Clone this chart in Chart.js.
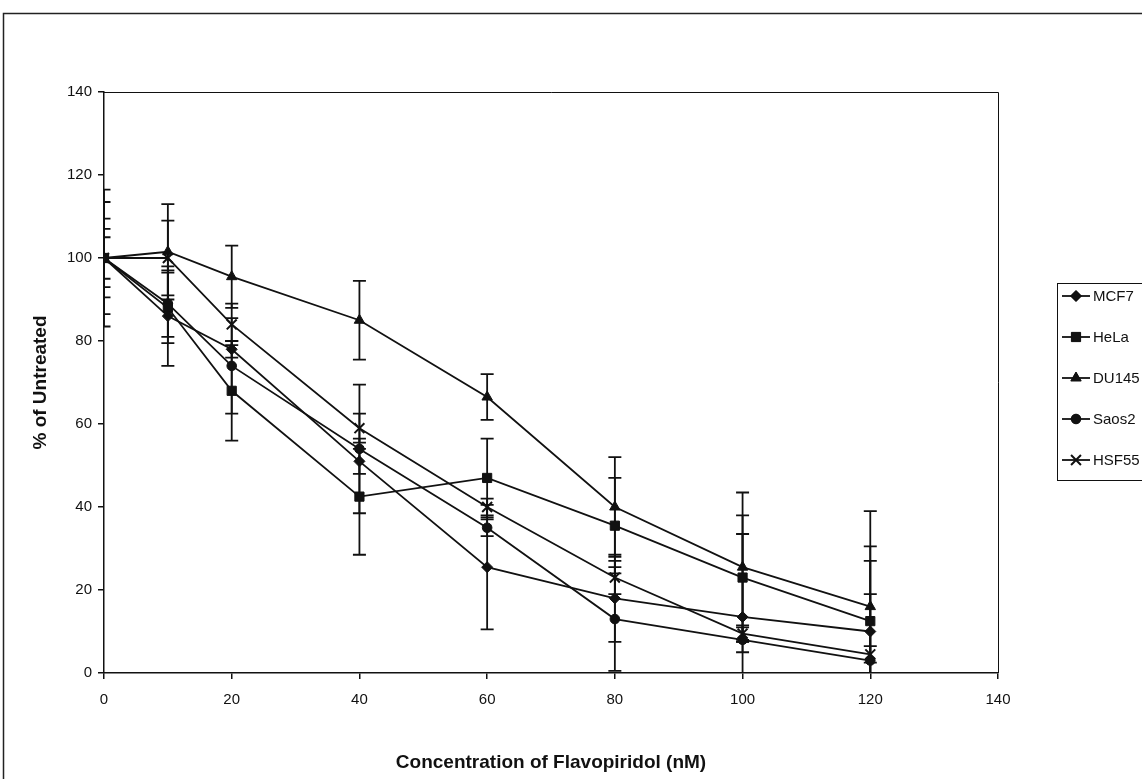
<!DOCTYPE html>
<html>
<head>
<meta charset="utf-8">
<title>Flavopiridol</title>
<script src="https://cdn.jsdelivr.net/npm/chart.js"></script>
<style>
  html, body { margin: 0; padding: 0; background: #fff; }
  #wrap { width: 1142px; height: 779px; position: relative; overflow: hidden; }
</style>
</head>
<body>
<div id="wrap"><canvas id="FlavoChart" width="1142" height="779"></canvas></div>
<script>
const concentrations = [0, 10, 20, 40, 60, 80, 100, 120];

const mcf7 = [100, 86, 78, 51, 25.5, 18, 13.5, 10];
const hela = [100, 88, 68, 42.5, 47, 35.5, 23, 12.5];
const du145 = [100, 101.5, 95.5, 85, 66.5, 40, 25.5, 16];
const saos2 = [100, 89, 74, 54, 35, 13, 8, 3];
const hsf55 = [100, 100, 84, 59, 40, 23, 9.5, 4.5];

// +/- error for each point
const mcf7_err = [9.5, 12, 2, 3, 15, 10.5, 20, 17];
const hela_err = [16.5, 8.5, 12, 14, 9.5, 11.5, 15, 18];
const du145_err = [5, 11.5, 7.5, 9.5, 5.5, 12, 18, 23];
const saos2_err = [13.5, 8, 11.5, 15.5, 2, 12.5, 3, 16];
const hsf55_err = [7, 9, 5, 3.5, 2, 4, 2, 2];

const axisTicks = [0, 20, 40, 60, 80, 100, 120, 140];

function toPoints(vals) {
    return concentrations.map((c, i) => ({x: c, y: vals[i]}));
}

function series(label, vals, errs, style, radius) {
    return {
        label: label,
        data: toPoints(vals),
        errors: errs,
        showLine: true,
        borderColor: '#111',
        borderWidth: 1.8,
        backgroundColor: '#111',
        pointStyle: style,
        pointRadius: radius,
        pointHoverRadius: radius,
        pointBorderColor: '#111',
        pointBackgroundColor: '#111',
        pointBorderWidth: style === 'crossRot' ? 2 : 1
    };
}

const flavo_data = {
    datasets: [
        series('MCF7', mcf7, mcf7_err, 'rectRot', 5.5),
        series('HeLa', hela, hela_err, 'rect', 6.5),
        series('DU145', du145, du145_err, 'triangle', 6),
        series('Saos2', saos2, saos2_err, 'circle', 4.8),
        series('HSF55', hsf55, hsf55_err, 'crossRot', 7)
    ]
};

// outer frame + plot area border
const framePlugin = {
    id: 'frame',
    beforeDraw(chart) {
        const ctx = chart.ctx;
        ctx.save();
        ctx.strokeStyle = '#222';
        ctx.lineWidth = 1.5;
        ctx.strokeRect(3.5, 13.5, 1200, 820);
        ctx.restore();
    },
    afterDraw(chart) {
        const a = chart.chartArea;
        const ctx = chart.ctx;
        ctx.save();
        ctx.strokeStyle = '#111';
        ctx.lineWidth = 1;
        ctx.beginPath();
        ctx.moveTo(a.left, a.top + 0.5);
        ctx.lineTo(a.right + 0.5, a.top + 0.5);
        ctx.lineTo(a.right + 0.5, a.bottom);
        ctx.stroke();
        ctx.restore();
    }
};

const errorBarPlugin = {
    id: 'errorBars',
    beforeDatasetsDraw(chart) {
        const ctx = chart.ctx;
        const xs = chart.scales.x, ys = chart.scales.y;
        const a = chart.chartArea;
        ctx.save();
        ctx.beginPath();
        ctx.rect(a.left, a.top, a.right - a.left, a.bottom - a.top);
        ctx.clip();
        ctx.strokeStyle = '#111';
        ctx.lineWidth = 1.8;
        chart.data.datasets.forEach(ds => {
            ds.data.forEach((p, i) => {
                const e = ds.errors[i];
                const px = xs.getPixelForValue(p.x);
                const top = ys.getPixelForValue(p.y + e);
                const bot = ys.getPixelForValue(p.y - e);
                ctx.beginPath();
                ctx.moveTo(px, top);
                ctx.lineTo(px, bot);
                ctx.moveTo(px - 6.5, top);
                ctx.lineTo(px + 6.5, top);
                ctx.moveTo(px - 6.5, bot);
                ctx.lineTo(px + 6.5, bot);
                ctx.stroke();
            });
        });
        ctx.restore();
    }
};

// Excel style legend box (line + marker), partly cut by the right edge
const legendPlugin = {
    id: 'boxLegend',
    afterDraw(chart) {
        const ctx = chart.ctx;
        ctx.save();
        ctx.strokeStyle = '#111';
        ctx.lineWidth = 1;
        ctx.strokeRect(1057.5, 283.5, 160, 197);
        ctx.font = '15px "Liberation Sans", Arial, sans-serif';
        ctx.fillStyle = '#111';
        ctx.textBaseline = 'middle';
        chart.data.datasets.forEach((ds, i) => {
            const y = 296 + i * 41;
            ctx.beginPath();
            ctx.lineWidth = 1.8;
            ctx.moveTo(1062, y);
            ctx.lineTo(1090, y);
            ctx.stroke();
            ctx.lineWidth = ds.pointBorderWidth;
            Chart.helpers.drawPoint(ctx, {
                pointStyle: ds.pointStyle,
                radius: ds.pointRadius,
                rotation: 0,
                borderWidth: ds.pointBorderWidth
            }, 1076, y);
            ctx.fill();
            ctx.fillText(ds.label, 1093, y + 1);
        });
        ctx.restore();
    }
};

const tickFont = {family: '"Liberation Sans", Arial, sans-serif', size: 15};
const titleFont = {family: '"Liberation Sans", Arial, sans-serif', size: 19, weight: 'bold'};

const configFlavo = {
    type: 'scatter',
    data: flavo_data,
    options: {
        responsive: false,
        animation: false,
        events: [],
        layout: {
            padding: {left: 0, top: 92, right: 144, bottom: 0}
        },
        plugins: {
            legend: {display: false},
            tooltip: {enabled: false}
        },
        scales: {
            x: {
                type: 'linear',
                min: 0,
                max: 140,
                afterBuildTicks: scale => { scale.ticks = axisTicks.map(v => ({value: v})); },
                afterFit: scale => { scale.height = 106; },
                ticks: {color: '#111', font: tickFont, padding: 12},
                grid: {drawOnChartArea: false, drawTicks: true, tickLength: 6, color: '#111', lineWidth: 1.5},
                border: {color: '#111', width: 1.5},
                title: {
                    display: true,
                    text: 'Concentration of Flavopiridol (nM)',
                    color: '#111',
                    font: titleFont,
                    padding: {top: 0, bottom: 5}
                }
            },
            y: {
                type: 'linear',
                min: 0,
                max: 140,
                afterBuildTicks: scale => { scale.ticks = axisTicks.map(v => ({value: v})); },
                afterFit: scale => { scale.width = 104; },
                ticks: {color: '#111', font: tickFont, padding: 6},
                grid: {drawOnChartArea: false, drawTicks: true, tickLength: 6, color: '#111', lineWidth: 1.5},
                border: {color: '#111', width: 1.5},
                title: {
                    display: true,
                    text: '% of Untreated',
                    color: '#111',
                    font: titleFont,
                    padding: {top: 29, bottom: 0}
                }
            }
        }
    },
    plugins: [framePlugin, errorBarPlugin, legendPlugin]
};

const FlavoChart = new Chart(
    document.getElementById('FlavoChart'),
    configFlavo
);
</script>
</body>
</html>
